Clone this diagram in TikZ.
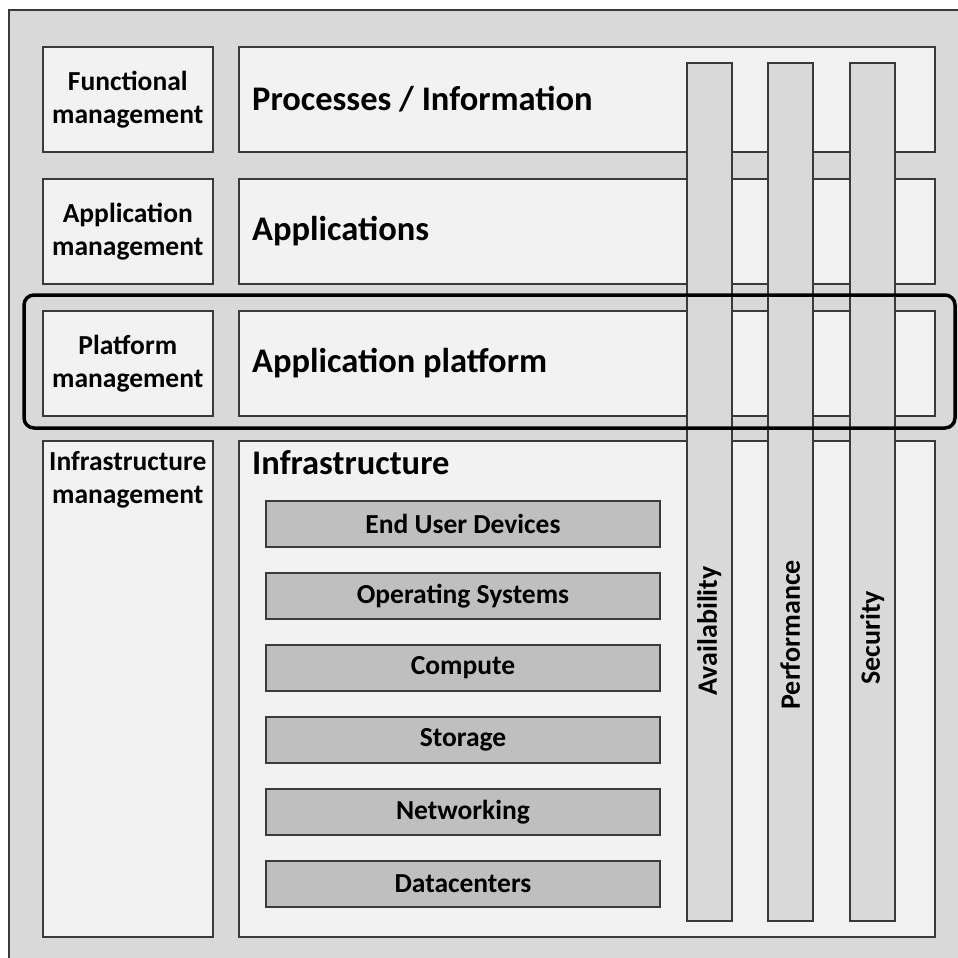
\documentclass[tikz,border=0pt]{standalone}
\usepackage{fontspec}
\setmainfont{Carlito}
\usepackage{xcolor}
\usetikzlibrary{positioning}

\definecolor{framegray}{HTML}{D9D9D9}
\definecolor{boxwhite}{HTML}{F2F2F2}
\definecolor{itemgray}{HTML}{BFBFBF}
\definecolor{linegray}{HTML}{3A3A3A}

\begin{document}
\begin{tikzpicture}[x=1pt, y=1pt, node distance = 26pt]
            \tikzstyle{mgmt} = [draw=linegray, fill=boxwhite, line width=1.6pt, minimum width=170pt, minimum height=105pt, inner sep=0pt, align=center, font=\bfseries\fontsize{27.5}{33}\selectfont]
            \tikzstyle{mgmttext} = [inner sep=0pt, align=center, font=\bfseries\fontsize{27.5}{33}\selectfont]
            \tikzstyle{layer} = [draw=linegray, fill=boxwhite, line width=1.6pt, minimum width=696pt, minimum height=105pt, inner sep=0pt]
            \tikzstyle{layertext} = [inner sep=0pt, anchor=west, font=\bfseries\fontsize{34.5}{40}\selectfont]
            \tikzstyle{item} = [draw=linegray, fill=itemgray, line width=1.6pt, outer sep=0pt, minimum width=394pt, minimum height=46pt, inner sep=0pt, font=\bfseries\fontsize{27.5}{32}\selectfont]
            \tikzstyle{bar} = [draw=linegray, fill=framegray, line width=1.6pt, minimum width=45pt, minimum height=858pt, inner sep=0pt]
            \tikzstyle{bartext} = [rotate=90, inner sep=0pt, font=\bfseries\fontsize{28}{32}\selectfont]
            \tikzstyle{focus} = [draw=black, line width=3.5pt, rounded corners=10pt]

            \useasboundingbox (0,0) rectangle (958,-958);
            \clip (0,0) rectangle (958,-958);
            \fill[white] (0,0) rectangle (958,-958);
            \draw[linegray, fill=framegray, line width=1.6pt] (9,-10) rectangle (980,-980);

            % left column
            \node [mgmt, anchor=north west] (funcmgmt) at (42,-46) {Functional\\management};
            \node [mgmt, anchor=north west] (appmgmt) at (42,-178) {Application\\management};
            \node [mgmt, anchor=north west] (platmgmt) at (42,-310) {Platform\\management};
            \node [mgmt, anchor=north west, minimum height=496pt] (infmgmt) at (42,-440) {};
            \node [mgmttext, below=11pt of infmgmt.north] (infmgmttext) {Infrastructure\\management};

            % layers
            \node [layer, anchor=north west] (procs) at (238,-46) {};
            \node [layer, anchor=north west] (apps) at (238,-178) {};
            \node [layer, anchor=north west] (platform) at (238,-310) {};
            \node [layer, anchor=north west, minimum height=496pt] (infra) at (238,-440) {};
            \node [layertext, right=14pt of procs.west] (procstext) {Processes / Information};
            \node [layertext, right=14pt of apps.west] (appstext) {Applications};
            \node [layertext, right=14pt of platform.west] (platformtext) {Application platform};
            \node [layertext, anchor=north west, below right=10pt and 14pt of infra.north west] (infratext) {Infrastructure};

            % infrastructure items
            \node [item, anchor=north west] (devices) at (266,-501) {End User Devices};
            \node [item, below = of devices] (os) {Operating Systems};
            \node [item, below = of os] (compute) {Compute};
            \node [item, below = of compute] (storage) {Storage};
            \node [item, below = of storage] (network) {Networking};
            \node [item, below = of network] (dc) {Datacenters};

            % quality bars
            \node [bar, anchor=north west] (avail) at (686,-62) {};
            \node [bar, anchor=north west] (perf) at (767,-62) {};
            \node [bar, anchor=north west] (sec) at (849,-62) {};
            \node [bartext] (availtext) at ([yshift=-139pt]avail.center) {Availability};
            \node [bartext] (perftext) at ([yshift=-143pt]perf.center) {Performance};
            \node [bartext] (sectext) at ([yshift=-146pt]sec.center) {Security};

            \draw [focus] (24,-295) rectangle (955,-428);
        \end{tikzpicture}
\end{document}
